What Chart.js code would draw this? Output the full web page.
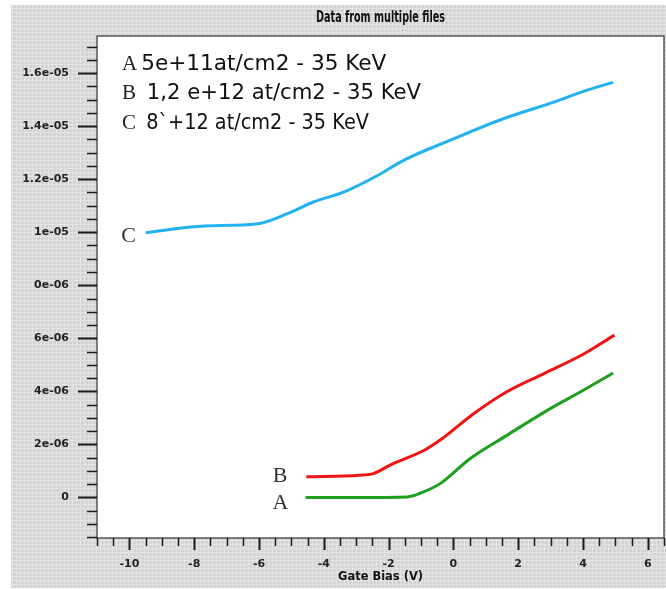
<!DOCTYPE html>
<html><head><meta charset="utf-8">
<script src="https://cdn.jsdelivr.net/npm/chart.js@4/dist/chart.umd.min.js"></script>
<style>html,body{margin:0;padding:0;background:#fff;overflow:hidden}canvas{display:block}</style>
</head><body>
<canvas id="c" width="666" height="589"></canvas>
<script>
// ---- text ----
const chartTitle = 'Data from multiple files';
const xAxisTitle = 'Gate Bias (V)';
const legendLetters = ['A', 'B', 'C'];
const legendTexts = ['5e+11at/cm2 - 35 KeV', ' 1,2 e+12 at/cm2 - 35 KeV', ' 8`+12 at/cm2 - 35 KeV'];

// ---- axes ----
const xMin = -11, xMax = 6.5, xMinorStep = 0.5;
const yMin = -1.53e-6, yMax = 1.74e-5, yMinorStep = 5e-7;
const xTickValues = [-10, -8, -6, -4, -2, 0, 2, 4, 6];
const xTickLabels = ['-10', '-8', '-6', '-4', '-2', '0', '2', '4', '6'];
const yTickValues = [0, 2e-6, 4e-6, 6e-6, 8e-6, 1e-5, 1.2e-5, 1.4e-5, 1.6e-5];
const yTickLabels = ['0', '2e-06', '4e-06', '6e-06', '0e-06', '1e-05', '1.2e-05', '1.4e-05', '1.6e-05'];

// ---- series ----
const xA = [-4.56, -3.0, -1.42, -0.92, -0.40, 0.52, 1.66, 2.99, 4.01, 4.93];
const yA = [0, 0, 0.02e-6, 0.21e-6, 0.53e-6, 1.47e-6, 2.35e-6, 3.35e-6, 4.04e-6, 4.69e-6];
const xB = [-4.54, -2.9, -2.47, -1.91, -0.9, -0.28, 0.56, 1.57, 2.81, 3.95, 4.97];
const yB = [0.78e-6, 0.84e-6, 0.90e-6, 1.25e-6, 1.78e-6, 2.28e-6, 3.10e-6, 3.93e-6, 4.68e-6, 5.36e-6, 6.12e-6];
const xC = [-9.49, -7.80, -6.04, -5.12, -4.32, -3.39, -2.34, -1.54, 0, 1.54, 3.08, 4.13, 4.93];
const yC = [9.98e-6, 10.23e-6, 10.32e-6, 10.70e-6, 11.14e-6, 11.51e-6, 12.14e-6, 12.71e-6, 13.52e-6, 14.28e-6, 14.90e-6, 15.36e-6, 15.65e-6];

// curve tag anchors (data coords, text right-aligned, baseline)
const tagText = ['C', 'B', 'A'];
const tagX = [-9.80, -5.12, -5.09];
const tagY = [9.62e-6, 0.58e-6, -0.45e-6];

const pts = (xs, ys) => xs.map((x, i) => ({ x: x, y: ys[i] }));

const decor = {
  id: 'decor',
  beforeDraw(chart) {
    const { ctx, chartArea: a } = chart;
    ctx.save();
    const pc = document.createElement('canvas'); pc.width = 4; pc.height = 4;
    const p = pc.getContext('2d');
    p.fillStyle = '#d4d4d4'; p.fillRect(0, 0, 4, 4);
    p.fillStyle = '#e4e4e4'; p.fillRect(0, 0, 1, 4); p.fillRect(0, 0, 4, 1);
    ctx.fillStyle = ctx.createPattern(pc, 'repeat');
    ctx.fillRect(11, 5, chart.width - 11, chart.height - 6);
    ctx.fillStyle = '#ffffff';
    ctx.fillRect(a.left, a.top, a.right - a.left, a.bottom - a.top);
    ctx.restore();
  },
  afterDraw(chart) {
    const { ctx, chartArea: a } = chart;
    const xs = chart.scales.x, ys = chart.scales.y;
    ctx.save();
    // frame
    ctx.strokeStyle = '#555'; ctx.lineWidth = 1.5;
    ctx.strokeRect(a.left, a.top, a.right - a.left, a.bottom - a.top);
    // x ticks
    ctx.strokeStyle = '#1a1a1a';
    for (let i = Math.ceil(xMin / xMinorStep); i <= Math.floor(xMax / xMinorStep + 1e-9); i++) {
      const v = i * xMinorStep;
      const major = xTickValues.some(t => Math.abs(t - v) < 1e-9);
      const px = Math.round(xs.getPixelForValue(v)) + 0.5;
      ctx.lineWidth = major ? 2 : 1.5;
      ctx.beginPath(); ctx.moveTo(px, a.bottom); ctx.lineTo(px, a.bottom + (major ? 12 : 8)); ctx.stroke();
    }
    // y ticks
    for (let i = Math.ceil(yMin / yMinorStep); i <= Math.floor(yMax / yMinorStep + 1e-9); i++) {
      const v = i * yMinorStep;
      const major = yTickValues.some(t => Math.abs(t - v) < 1e-12);
      const py = Math.round(ys.getPixelForValue(v)) + 0.5;
      ctx.lineWidth = major ? 2 : 1.5;
      ctx.beginPath(); ctx.moveTo(a.left, py); ctx.lineTo(a.left - (major ? 19 : 10), py); ctx.stroke();
    }
    // title (condensed)
    ctx.fillStyle = '#111';
    ctx.textBaseline = 'middle'; ctx.textAlign = 'center';
    ctx.font = 'bold 15px "DejaVu Sans"';
    let w = ctx.measureText(chartTitle).width;
    ctx.save();
    ctx.translate((a.left + a.right) / 2, 18);
    ctx.scale(129 / w, 1);
    ctx.fillText(chartTitle, 0, 0);
    ctx.restore();
    // x-axis title (condensed)
    ctx.font = 'bold 13px "DejaVu Sans"';
    w = ctx.measureText(xAxisTitle).width;
    ctx.save();
    ctx.translate((a.left + a.right) / 2, 577);
    ctx.scale(85 / w, 1);
    ctx.fillText(xAxisTitle, 0, 0);
    ctx.restore();
    // legend block (row widths as measured in the reference)
    const rowWidths = [247, 281, 229];
    ctx.textAlign = 'left'; ctx.textBaseline = 'alphabetic';
    for (let i = 0; i < legendLetters.length; i++) {
      const by = a.top + 34 + i * 29.3;
      ctx.font = '21px "Liberation Serif"';
      ctx.fillStyle = '#222';
      ctx.fillText(legendLetters[i], a.left + 25, by);
      const lw = ctx.measureText(legendLetters[i]).width;
      ctx.font = '21.6px "DejaVu Sans"';
      ctx.fillStyle = '#111';
      const tw = ctx.measureText(legendTexts[i]).width;
      ctx.save();
      ctx.translate(a.left + 25 + lw + 4, by);
      ctx.scale(Math.min(1, rowWidths[i] / tw), 1);
      ctx.fillText(legendTexts[i], 0, 0);
      ctx.restore();
    }
    // curve tags
    ctx.font = '22px "Liberation Serif"';
    ctx.fillStyle = '#333'; ctx.textAlign = 'right';
    for (let i = 0; i < tagText.length; i++) {
      ctx.fillText(tagText[i], xs.getPixelForValue(tagX[i]), ys.getPixelForValue(tagY[i]));
    }
    ctx.restore();
  }
};

const axisFont = { family: 'DejaVu Sans', weight: 'bold', size: 11 };

new Chart(document.getElementById('c'), {
  type: 'line',
  data: {
    datasets: [
      { label: 'A', data: pts(xA, yA), borderColor: '#1ea01e' },
      { label: 'B', data: pts(xB, yB), borderColor: '#f01414' },
      { label: 'C', data: pts(xC, yC), borderColor: '#22b2f0' }
    ]
  },
  options: {
    responsive: false,
    animation: false,
    devicePixelRatio: 1,
    layout: { padding: { top: 36, right: 2, left: 0, bottom: 0 } },
    elements: {
      line: { borderWidth: 3, cubicInterpolationMode: 'monotone', fill: false },
      point: { radius: 0, hoverRadius: 0 }
    },
    plugins: { legend: { display: false }, title: { display: false }, tooltip: { enabled: false } },
    scales: {
      x: {
        type: 'linear', min: xMin, max: xMax,
        afterBuildTicks: s => { s.ticks = xTickValues.map(v => ({ value: v })); },
        afterFit: s => { s.height = 51; s.paddingLeft = 0; s.paddingRight = 0; },
        grid: { display: false, drawTicks: false },
        border: { display: false },
        ticks: { autoSkip: false, maxRotation: 0, padding: 20, color: '#222', font: axisFont,
                 callback: (v, i) => xTickLabels[i] },
        title: { display: false, text: xAxisTitle }
      },
      y: {
        type: 'linear', min: yMin, max: yMax,
        afterBuildTicks: s => { s.ticks = yTickValues.map(v => ({ value: v })); },
        afterFit: s => { s.width = 97; s.paddingTop = 0; s.paddingBottom = 0; },
        grid: { display: false, drawTicks: false },
        border: { display: false },
        ticks: { autoSkip: false, padding: 28, color: '#222', font: axisFont,
                 callback: (v, i) => yTickLabels[i] }
      }
    }
  },
  plugins: [decor]
});
</script>
</body></html>
